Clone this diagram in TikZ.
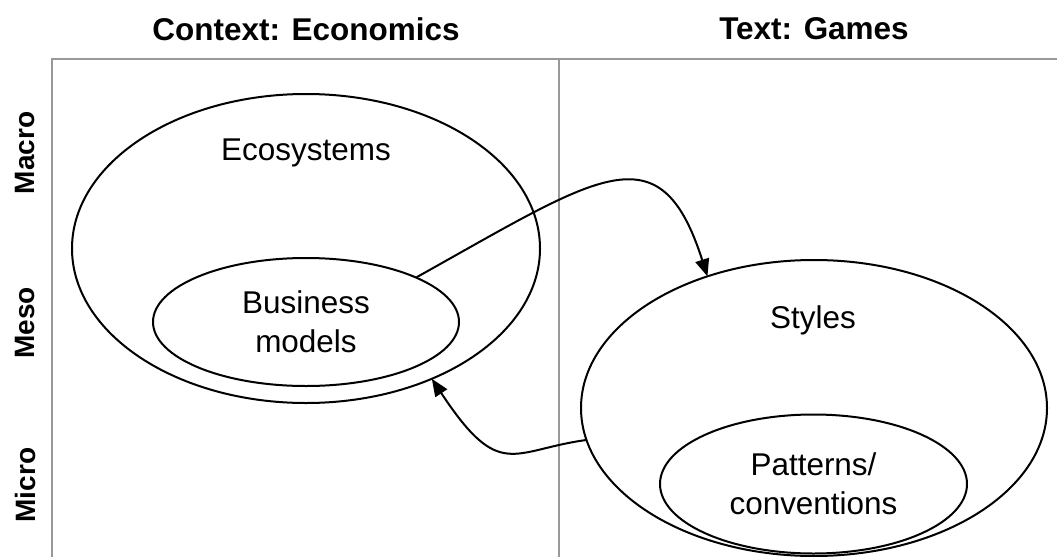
\documentclass[tikz,border=0pt]{standalone}
\usepackage{fontspec}
\setmainfont{Liberation Sans}
\usetikzlibrary{arrows.meta,shapes.geometric}
\definecolor{framegray}{HTML}{999999}
\begin{document}
\begin{tikzpicture}[x=0.75pt,y=-0.75pt,
  framestyle/.style={draw=framegray, line width=1.5pt},
  oval/.style={ellipse, draw, line width=1.5pt, inner sep=0pt, outer sep=0pt, align=center, font=\fontsize{23.6}{29}\selectfont},
  lbl/.style={font=\fontsize{23.6}{29}\selectfont, align=center},
  coltitle/.style={font=\bfseries\fontsize{23.6}{29}\selectfont},
  rowlbl/.style={font=\bfseries\fontsize{21}{25}\selectfont, rotate=90},
  conn/.style={line width=1.5pt, -{Triangle[length=13pt,width=10.5pt]}}
]
\useasboundingbox (0,0) rectangle (1057,557);
% frame
\coordinate (tl) at (52,59);
\coordinate (tr) at (1057,59);
\coordinate (bl) at (52,557);
\coordinate (mt) at (559,59);
\coordinate (mb) at (559,557);
\draw[framestyle] (bl) -- (tl) -- (tr);
\draw[framestyle] (mt) -- (mb);
% titles
\node[coltitle] (t1) at (306,29) {Context: Economics};
\node[coltitle] (t2) at (814,29) {Text: Games};
% row labels
\node[rowlbl] (r1) at (25,153) {Macro};
\node[rowlbl] (r2) at (25,323) {Meso};
\node[rowlbl] (r3) at (25,485) {Micro};
% ellipses
\node[oval, minimum width=351pt, minimum height=231.75pt] (eco) at (306,248.5) {};
\node[lbl] (ecot) at (306,153) {Ecosystems};
\node[oval, minimum width=229.5pt, minimum height=96pt] (bus) at (306,322) {Business\\models};
\node[oval, minimum width=349.5pt, minimum height=222pt] (sty) at (814,408) {};
\node[lbl] (styt) at (813,320) {Styles};
\node[oval, minimum width=230.25pt, minimum height=104.25pt] (pat) at (813.5,484) {Patterns/\\conventions};
% connectors
\draw[conn] (bus.22) .. controls (600,175) and (660,128) .. (sty.129.6);
\draw[conn] (sty.188) .. controls (512,450) and (500,482) .. (eco.-46);
\end{tikzpicture}
\end{document}
